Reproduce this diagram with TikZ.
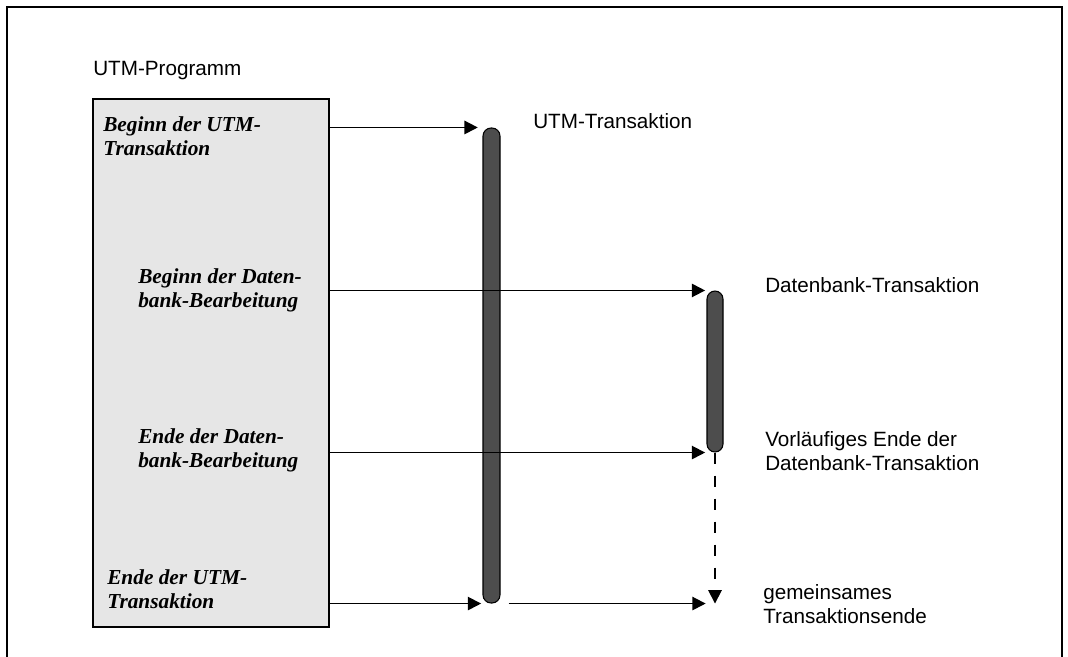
\documentclass[tikz,border=0pt]{standalone}
\usepackage{fontspec}
\setmainfont{Liberation Serif}
\setsansfont{Liberation Sans}
\usepackage{tikz}
\usetikzlibrary{arrows.meta}
\definecolor{progfill}{HTML}{E6E6E6}
\definecolor{barfill}{HTML}{4D4D4D}
\newcommand{\linew}{1.3pt}
\newcommand{\tipsize}{10pt}
\tikzset{
  conn/.style={-{Triangle[length=\tipsize,width=\tipsize]}, line width=\linew},
  progbox/.style={draw, line width=\linew, fill=progfill, inner sep=0pt},
  tabar/.style={draw, line width=0.8pt, fill=barfill, rounded corners=6pt, inner sep=0pt},
  seriflbl/.style={font=\fontsize{16}{18}\selectfont\bfseries\itshape, align=left, anchor=base west, inner sep=0pt},
  sanslbl/.style={font=\fontsize{15.5}{18}\selectfont\sffamily, align=left, anchor=base west, inner sep=0pt}
}

\begin{document}
\begin{tikzpicture}[x=0.75pt, y=-0.75pt]
\useasboundingbox (0,0) rectangle (1068,657);
% frame
\draw[line width=\linew] (7,657) -- (7,7) -- (1062,7) -- (1062,657);
% program (multi-line labels sit on their last baseline)
\node[sanslbl] (progtitle) at (93,75) {UTM-Programm};
\node[progbox, minimum width=177pt, minimum height=396pt] (prog) at (211,363) {};
\node[seriflbl] (utmbegin) at (103,155) {Beginn der UTM-\\Transaktion};
\node[seriflbl] (dbbegin) at (138,307) {Beginn der Daten-\\bank-Bearbeitung};
\node[seriflbl] (dbend) at (138,467) {Ende der Daten-\\bank-Bearbeitung};
\node[seriflbl] (utmend) at (107,608) {Ende der UTM-\\Transaktion};
% bars
\node[tabar, minimum width=12.75pt, minimum height=356.25pt] (ubar) at (491.5,365.5) {};
\node[tabar, minimum width=12pt, minimum height=120.75pt] (dbar) at (715,371.5) {};
\coordinate (ende) at (dbar.south |- ubar.south);
% labels
\node[sanslbl] (utmta) at (533,128) {UTM-Transaktion};
\node[sanslbl] (dbta) at (765,292) {Datenbank-Transaktion};
\node[sanslbl] (dbpre) at (765,470) {Vorläufiges Ende der\\Datenbank-Transaktion};
\node[sanslbl] (common) at (763,623) {gemeinsames\\Transaktionsende};
% arrows
\draw[conn] (prog.east |- ubar.north) -- ([xshift=-3.5pt]ubar.north west);
\draw[conn] (prog.east |- dbar.north) -- ([xshift=-1pt]dbar.north west);
\draw[conn] (prog.east |- dbar.south) -- ([xshift=-1pt]dbar.south west);
\draw[conn] (prog.east |- ubar.south) -- ([xshift=-1pt]ubar.south west);
\draw[conn] ([xshift=6pt]ubar.south east) -- ([xshift=-7pt]ende);
\draw[conn, dash pattern=on 8.25pt off 9pt] (dbar.south) -- (ende);
\end{tikzpicture}
\end{document}
